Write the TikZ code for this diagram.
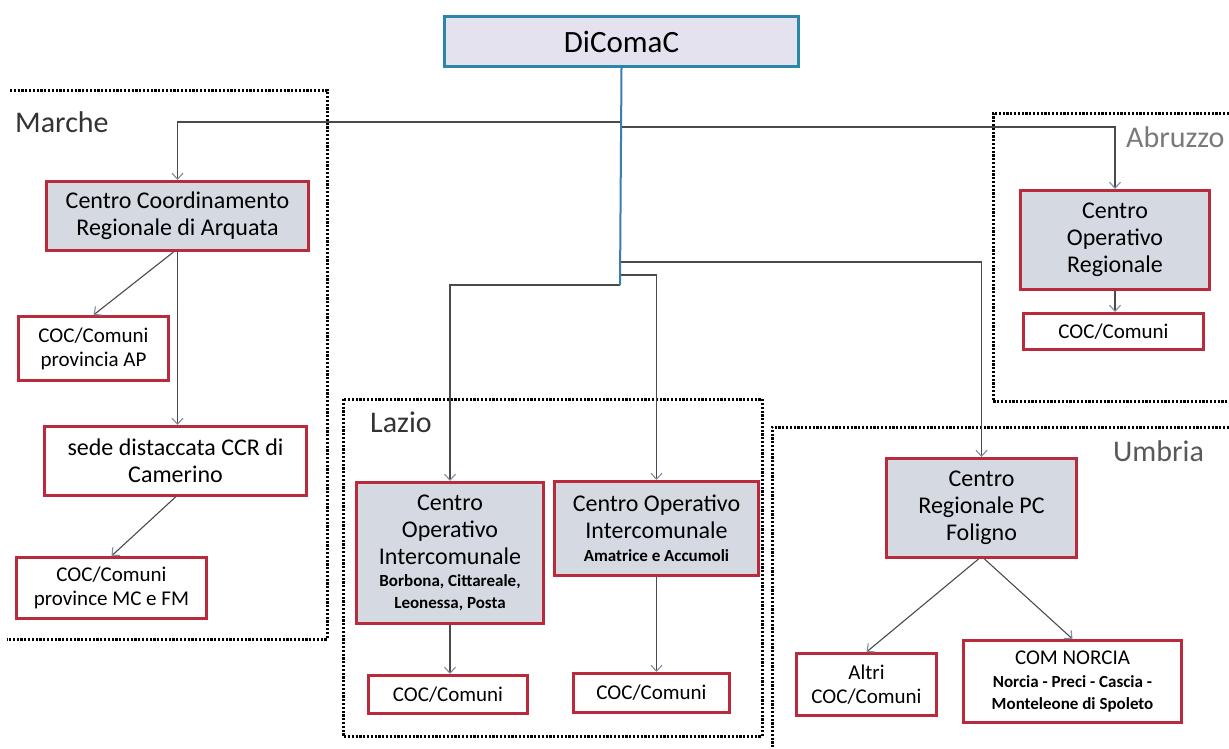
\documentclass[tikz,border=0pt]{standalone}
\usepackage{fontspec}
\setmainfont{Carlito}
\usetikzlibrary{arrows.meta}
\definecolor{boxred}{HTML}{B82A3C}
\definecolor{boxfill}{HTML}{D5D9E2}
\definecolor{dicfill}{HTML}{E4E2EE}
\definecolor{dicline}{HTML}{2A88A6}
\definecolor{connline}{HTML}{4A4A4A}
\definecolor{tipcol}{HTML}{7C8FA0}
\definecolor{trunkcol}{HTML}{3C7DB0}
\definecolor{labgray}{HTML}{7A7A7A}
\newcommand\mainf{\fontsize{24}{27}\selectfont}
\newcommand\subf{\fontsize{17}{21}\selectfont\bfseries}
\newcommand\cocf{\fontsize{21}{24}\selectfont}
\newcommand\regf{\fontsize{30}{34}\selectfont}
\tikzset{
  box/.style={draw=boxred, line width=3pt, inner sep=0pt, align=center, anchor=north west},
  graybox/.style={box, fill=boxfill, font=\mainf},
  whitebox/.style={box, fill=white},
  conn/.style={draw=connline, line width=1.1pt, -{Straight Barb[length=6pt,width=11pt,line width=1.1pt,color=tipcol]}},
  trunk/.style={draw=trunkcol, line width=2pt},
  region/.style={draw=black, line width=3pt, dash pattern=on 2.2pt off 1.6pt},
  reglabel/.style={anchor=base west, inner sep=0pt, font=\regf},
}
\begin{document}
\begin{tikzpicture}[x=1pt,y=-1pt]
\useasboundingbox[fill=white] (0,0) rectangle (1229,748);

% regions
\draw[region] (10,90) -- (327,90) -- (327,639) -- (7,639);
\draw[region] (343,399) rectangle (762,736);
\draw[region] (1229,113) -- (993,113) -- (993,401) -- (1229,401);
\draw[region] (1229,427) -- (772,427) -- (772,748);

\node[reglabel, text=black!80] (lmarche) at (15,132) {Marche};
\node[reglabel, text=black!80] (llazio) at (370,432) {Lazio};
\node[reglabel, text=labgray] (labruzzo) at (1126,147) {Abruzzo};
\node[reglabel, text=black!65] (lumbria) at (1113,461) {Umbria};

% nodes
\node[box, fill=dicfill, draw=dicline, minimum width=354pt, minimum height=50pt, font=\fontsize{31}{34}\selectfont] (dic) at (443,15) {DiComaC};

\node[graybox, minimum width=262pt, minimum height=69pt] (ccr) at (45,180) {Centro Coordinamento\\Regionale di Arquata};
\node[whitebox, minimum width=150pt, minimum height=64pt, font=\cocf] (cocap) at (17,315) {COC/Comuni\\provincia AP};
\node[whitebox, minimum width=262pt, minimum height=69pt, font=\mainf] (sede) at (43,425) {sede distaccata CCR di\\Camerino};
\node[whitebox, minimum width=190pt, minimum height=61pt, font=\cocf] (cocmc) at (15,556) {COC/Comuni\\province MC e FM};

\node[graybox, minimum width=187pt, minimum height=141pt] (laz1) at (355,481) {Centro\\Operativo\\Intercomunale\\[-5pt]{\subf Borbona, Cittareale,}\\[-5pt]{\subf Leonessa, Posta}};
\node[whitebox, minimum width=159pt, minimum height=38pt, font=\cocf] (laz1c) at (367,674) {COC/Comuni};
\node[graybox, minimum width=204pt, minimum height=94pt] (laz2) at (553,480) {Centro Operativo\\Intercomunale\\[-4pt]{\subf Amatrice e Accumoli}};
\node[whitebox, minimum width=156pt, minimum height=39pt, font=\cocf] (laz2c) at (572,672) {COC/Comuni};

\node[graybox, minimum width=189pt, minimum height=99pt] (abr) at (1019,189) {Centro\\Operativo\\Regionale};
\node[whitebox, minimum width=180pt, minimum height=36pt, font=\cocf] (abrc) at (1022,312) {COC/Comuni};

\node[graybox, minimum width=190pt, minimum height=99pt] (umb) at (885,457) {Centro\\Regionale PC\\Foligno};
\node[whitebox, minimum width=140pt, minimum height=62pt, font=\cocf] (altri) at (795,652) {Altri\\COC/Comuni};
\node[whitebox, minimum width=218pt, minimum height=82pt, font=\cocf] (norcia) at (962,639) {COM NORCIA\\[-1pt]{\subf Norcia - Preci - Cascia -}\\[-2pt]{\subf Monteleone di Spoleto}};

% junctions on trunk
\coordinate (jm) at (620,122);
\coordinate (ja) at (620,127);
\coordinate (ju) at (620,262);
\coordinate (jl2) at (620,275);
\coordinate (jl1) at (620,285);

\draw[conn] (jm) -| (ccr.north);
\draw[conn] (ja) -| (abr.north);
\draw[conn] (ju) -| (umb.north);
\draw[conn] (jl2) -| (laz2.north);
\draw[conn] (jl1) -| (laz1.north);
\draw[trunk] (dic.south) -- (jl1);

\draw[conn] ([xshift=-4pt]ccr.south) -- (cocap.north);
\draw[conn] (ccr.south) -- (ccr.south |- sede.north);
\draw[conn] (sede.south) -- (cocmc.north);
\draw[conn] (laz1.south) -- (laz1.south |- laz1c.north);
\draw[conn] (laz2.south) -- (laz2.south |- laz2c.north);
\draw[conn] (abr.south) -- (abr.south |- abrc.north);
\draw[conn] ([xshift=-3pt]umb.south) -- (altri.north);
\draw[conn] ([xshift=3pt]umb.south) -- (norcia.north);
\end{tikzpicture}
\end{document}
